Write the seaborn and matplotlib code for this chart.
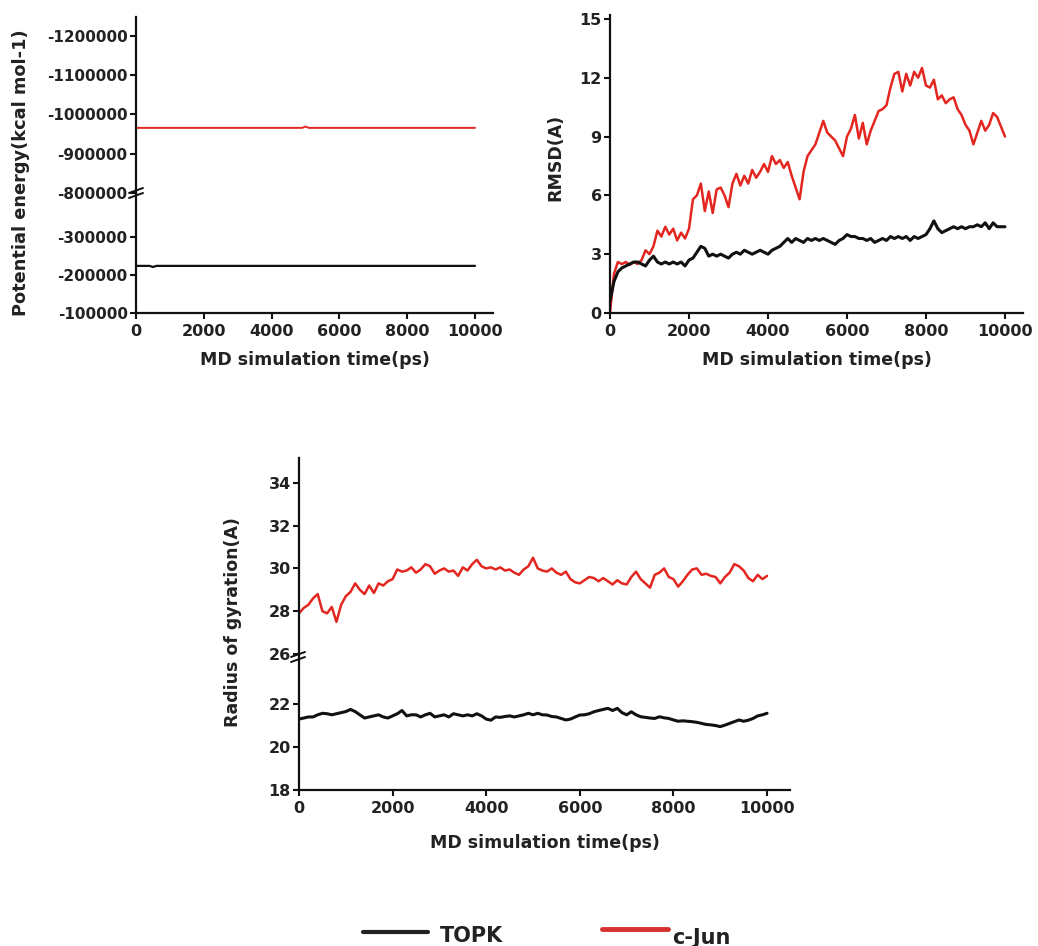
import numpy as np
import pandas as pd
import matplotlib
matplotlib.use("Agg")
import matplotlib.pyplot as plt
from matplotlib.lines import Line2D
import seaborn as sns

# ---------------- data ----------------
time_ps = list(range(0, 10001, 100))

# Potential energy (kcal mol-1)
pe_time = [0, 400, 500, 600, 2500, 4900, 5000, 5100, 7500, 10000]
pe_cjun = [-965800, -965800, -965800, -965800, -965800, -965800, -969000, -965800, -965800, -965800]
pe_topk = [-224000, -224000, -221000, -224000, -224000, -224000, -224000, -224000, -224000, -224000]

# RMSD (A)
rmsd_cjun = [0.0, 2.0, 2.6, 2.5, 2.6, 2.45, 2.6, 2.5, 2.7, 3.2,
             3.0, 3.4, 4.2, 3.9, 4.4, 4.0, 4.3, 3.7, 4.1, 3.8,
             4.3, 5.8, 6.0, 6.6, 5.2, 6.2, 5.1, 6.3, 6.4, 6.0,
             5.4, 6.6, 7.1, 6.5, 7.0, 6.6, 7.3, 6.9, 7.2, 7.6,
             7.2, 8.0, 7.6, 7.8, 7.4, 7.7, 7.0, 6.4, 5.8, 7.2,
             8.0, 8.3, 8.6, 9.2, 9.8, 9.2, 9.0, 8.8, 8.4, 8.0,
             9.0, 9.4, 10.1, 8.9, 9.7, 8.6, 9.3, 9.8, 10.3, 10.4,
             10.6, 11.5, 12.2, 12.3, 11.3, 12.2, 11.6, 12.3, 12.0, 12.5,
             11.6, 11.5, 11.9, 10.9, 11.1, 10.7, 10.9, 11.0, 10.4, 10.1,
             9.6, 9.3, 8.6, 9.2, 9.8, 9.3, 9.6, 10.2, 10.0, 9.5,
             9.0]
rmsd_topk = [0.6, 1.6, 2.1, 2.3, 2.4, 2.5, 2.6, 2.6, 2.5, 2.4,
             2.7, 2.9, 2.6, 2.5, 2.6, 2.5, 2.6, 2.5, 2.6, 2.4,
             2.7, 2.8, 3.1, 3.4, 3.3, 2.9, 3.0, 2.9, 3.0, 2.9,
             2.8, 3.0, 3.1, 3.0, 3.2, 3.1, 3.0, 3.1, 3.2, 3.1,
             3.0, 3.2, 3.3, 3.4, 3.6, 3.8, 3.6, 3.8, 3.7, 3.6,
             3.8, 3.7, 3.8, 3.7, 3.8, 3.7, 3.6, 3.5, 3.7, 3.8,
             4.0, 3.9, 3.9, 3.8, 3.8, 3.7, 3.8, 3.6, 3.7, 3.8,
             3.7, 3.9, 3.8, 3.9, 3.8, 3.9, 3.7, 3.9, 3.8, 3.9,
             4.0, 4.3, 4.7, 4.3, 4.1, 4.2, 4.3, 4.4, 4.3, 4.4,
             4.3, 4.4, 4.4, 4.5, 4.4, 4.6, 4.3, 4.6, 4.4, 4.4,
             4.4]

# Radius of gyration (A)
rg_cjun = [27.9, 28.15, 28.3, 28.6, 28.8, 28.0, 27.9, 28.2, 27.5, 28.3,
           28.7, 28.9, 29.3, 29.0, 28.8, 29.2, 28.85, 29.3, 29.2, 29.4,
           29.5, 29.95, 29.85, 29.9, 30.05, 29.8, 29.95, 30.2, 30.1, 29.75,
           29.9, 30.0, 29.85, 29.9, 29.65, 30.05, 29.9, 30.2, 30.4, 30.1,
           30.0, 30.05, 29.95, 30.05, 29.9, 29.95, 29.8, 29.7, 29.95, 30.1,
           30.5, 30.0, 29.9, 29.85, 30.0, 29.8, 29.7, 29.85, 29.5, 29.35,
           29.3, 29.45, 29.6, 29.55, 29.4, 29.55, 29.4, 29.25, 29.45, 29.3,
           29.25, 29.6, 29.85, 29.5, 29.3, 29.1, 29.7, 29.8, 30.0, 29.6,
           29.5, 29.15, 29.4, 29.7, 29.95, 30.0, 29.7, 29.75, 29.65, 29.6,
           29.3, 29.6, 29.8, 30.2, 30.1, 29.9, 29.55, 29.4, 29.7, 29.5,
           29.65]
rg_topk = [21.3, 21.35, 21.4, 21.4, 21.5, 21.57, 21.55, 21.5, 21.55, 21.6,
           21.65, 21.75, 21.65, 21.5, 21.35, 21.4, 21.45, 21.5, 21.4, 21.35,
           21.45, 21.55, 21.7, 21.45, 21.5, 21.5, 21.4, 21.5, 21.57, 21.4,
           21.45, 21.5, 21.4, 21.55, 21.5, 21.45, 21.5, 21.45, 21.55, 21.45,
           21.3, 21.25, 21.4, 21.38, 21.42, 21.45, 21.4, 21.45, 21.5, 21.57,
           21.5, 21.57, 21.5, 21.49, 21.42, 21.4, 21.33, 21.26, 21.3, 21.4,
           21.49, 21.5, 21.55, 21.64, 21.7, 21.75, 21.8, 21.7, 21.8, 21.6,
           21.5, 21.64, 21.5, 21.41, 21.38, 21.35, 21.33, 21.41, 21.36, 21.33,
           21.26, 21.2, 21.22, 21.2, 21.18, 21.15, 21.1, 21.05, 21.03, 21.0,
           20.95, 21.02, 21.1, 21.18, 21.26, 21.2, 21.25, 21.33, 21.45, 21.5,
           21.57]

x_ticks = [0, 2000, 4000, 6000, 8000, 10000]
pe_upper_ticks = [-800000, -900000, -1000000, -1100000, -1200000]
pe_lower_ticks = [-100000, -200000, -300000]
rmsd_ticks = [0, 3, 6, 9, 12, 15]
rg_upper_ticks = [26, 28, 30, 32, 34]
rg_lower_ticks = [18, 20, 22]

series_names = ["TOPK", "c-Jun"]
RED = "#e3261f"
BLACK = "#111111"

# ---------------- style ----------------
sns.set_theme(style="ticks")
plt.rcParams["font.family"] = ["DejaVu Sans"]
plt.rcParams["font.weight"] = "bold"
plt.rcParams["axes.unicode_minus"] = False

W, H = 1038, 946
fig = plt.figure(figsize=(W / 100, H / 100), dpi=100)
fig.patch.set_facecolor("white")


def fx(px):
    return px / W


def fy(py):
    return 1 - py / H


def add_ax(left, right, top, bottom):
    ax = fig.add_axes([fx(left), fy(bottom), (right - left) / W, (bottom - top) / H])
    ax.set_facecolor("none")
    for s in ["top", "right"]:
        ax.spines[s].set_visible(False)
    for s in ["left", "bottom"]:
        ax.spines[s].set_linewidth(1.6)
        ax.spines[s].set_color("#111111")
    ax.tick_params(direction="out", length=4, width=1.5, colors="#111111",
                   labelsize=11, pad=2)
    ax.set_xlabel("")
    ax.set_ylabel("")
    return ax


def style_labels(ax):
    for lab in ax.get_xticklabels() + ax.get_yticklabels():
        lab.set_fontweight("bold")
        lab.set_color("#222222")


def line(ax, x, y, color, lw):
    sns.lineplot(x=x, y=y, ax=ax, color=color, linewidth=lw, sort=False,
                 estimator=None, legend=False)
    ax.set_xlabel("")
    ax.set_ylabel("")


# ---------------- panel 1: potential energy (broken axis) ----------------
p1_up = add_ax(136, 493, 17, 193)
p1_lo = add_ax(136, 493, 193, 313)
for ax in (p1_up, p1_lo):
    line(ax, pe_time, pe_cjun, RED, 1.4)
    line(ax, pe_time, pe_topk, BLACK, 1.6)
    ax.set_xlim(0, 10530)
p1_up.set_ylim(-800000, -1248000)
p1_lo.set_ylim(-100000, -415800)
p1_up.spines["bottom"].set_visible(False)
p1_up.tick_params(axis="x", bottom=False, labelbottom=False)
p1_up.set_yticks(pe_upper_ticks)
p1_up.set_yticklabels([str(v) for v in pe_upper_ticks])
p1_lo.set_yticks(pe_lower_ticks)
p1_lo.set_yticklabels([str(v) for v in pe_lower_ticks])
p1_lo.set_xticks(x_ticks)
p1_lo.set_xticklabels([str(v) for v in x_ticks])
p1_lo.tick_params(axis="x", labelsize=11.5, pad=4)
style_labels(p1_up)
style_labels(p1_lo)

# ---------------- panel 2: RMSD ----------------
p2 = add_ax(610, 1023, 15, 313)
line(p2, time_ps, rmsd_cjun, RED, 1.8)
line(p2, time_ps, rmsd_topk, BLACK, 2.2)
p2.set_xlim(0, 10456)
p2.set_ylim(0, 15.2)
p2.set_yticks(rmsd_ticks)
p2.set_yticklabels([str(v) for v in rmsd_ticks])
p2.set_xticks(x_ticks)
p2.set_xticklabels([str(v) for v in x_ticks])
p2.tick_params(axis="x", labelsize=11.5, pad=4)
p2.tick_params(axis="y", labelsize=11.5)
style_labels(p2)

# ---------------- panel 3: radius of gyration (broken axis) ----------------
p3_up = add_ax(299, 790, 458, 654)
p3_lo = add_ax(299, 790, 654, 790)
for ax in (p3_up, p3_lo):
    line(ax, time_ps, rg_cjun, RED, 1.8)
    line(ax, time_ps, rg_topk, BLACK, 2.2)
    ax.set_xlim(0, 10490)
p3_up.set_ylim(26, 35.16)
p3_lo.set_ylim(18, 24.33)
p3_up.spines["bottom"].set_visible(False)
p3_up.tick_params(axis="x", bottom=False, labelbottom=False)
p3_up.set_yticks(rg_upper_ticks)
p3_up.set_yticklabels([str(v) for v in rg_upper_ticks])
p3_lo.set_yticks(rg_lower_ticks)
p3_lo.set_yticklabels([str(v) for v in rg_lower_ticks])
p3_lo.set_xticks(x_ticks)
p3_lo.set_xticklabels([str(v) for v in x_ticks])
for ax in (p3_up, p3_lo):
    ax.tick_params(axis="y", labelsize=11.5)
p3_lo.tick_params(axis="x", labelsize=11.5, pad=4)
style_labels(p3_up)
style_labels(p3_lo)

# ---------------- break marks ----------------
def brk(x0, x1, y0, y1):
    fig.add_artist(Line2D([fx(x0), fx(x1)], [fy(y0), fy(y1)], transform=fig.transFigure,
                          color="#111111", lw=1.4))

brk(129, 143, 193, 188)
brk(129, 143, 198, 193)
brk(291, 305, 657, 652)
brk(291, 305, 662, 657)

# ---------------- axis titles ----------------
lab_kw = dict(fontweight="bold", color="#222222", ha="center", va="center")
fig.text(fx(21), fy(173), "Potential energy(kcal mol-1)", rotation=90, fontsize=12.8, **lab_kw)
fig.text(fx(315), fy(360), "MD simulation time(ps)", fontsize=12.5, **lab_kw)
fig.text(fx(555), fy(157), "RMSD(A)", rotation=90, fontsize=12.5, **lab_kw)
fig.text(fx(817), fy(360), "MD simulation time(ps)", fontsize=12.5, **lab_kw)
fig.text(fx(233), fy(622), "Radius of gyration(A)", rotation=90, fontsize=12.5, **lab_kw)
fig.text(fx(545), fy(843), "MD simulation time(ps)", fontsize=12.5, **lab_kw)

# ---------------- legend ----------------
fig.add_artist(Line2D([fx(363), fx(428)], [fy(932), fy(932)], transform=fig.transFigure,
                      color="#222222", lw=3))
fig.add_artist(Line2D([fx(602), fx(668)], [fy(929), fy(929)], transform=fig.transFigure,
                      color="#d63030", lw=3.5))
fig.text(fx(440), fy(936), series_names[0], fontsize=15, fontweight="bold",
         color="#222222", ha="left", va="center")
fig.text(fx(672), fy(938), series_names[1], fontsize=15, fontweight="bold",
         color="#222222", ha="left", va="center")

fig.savefig("out.png", dpi=100, facecolor="white")
